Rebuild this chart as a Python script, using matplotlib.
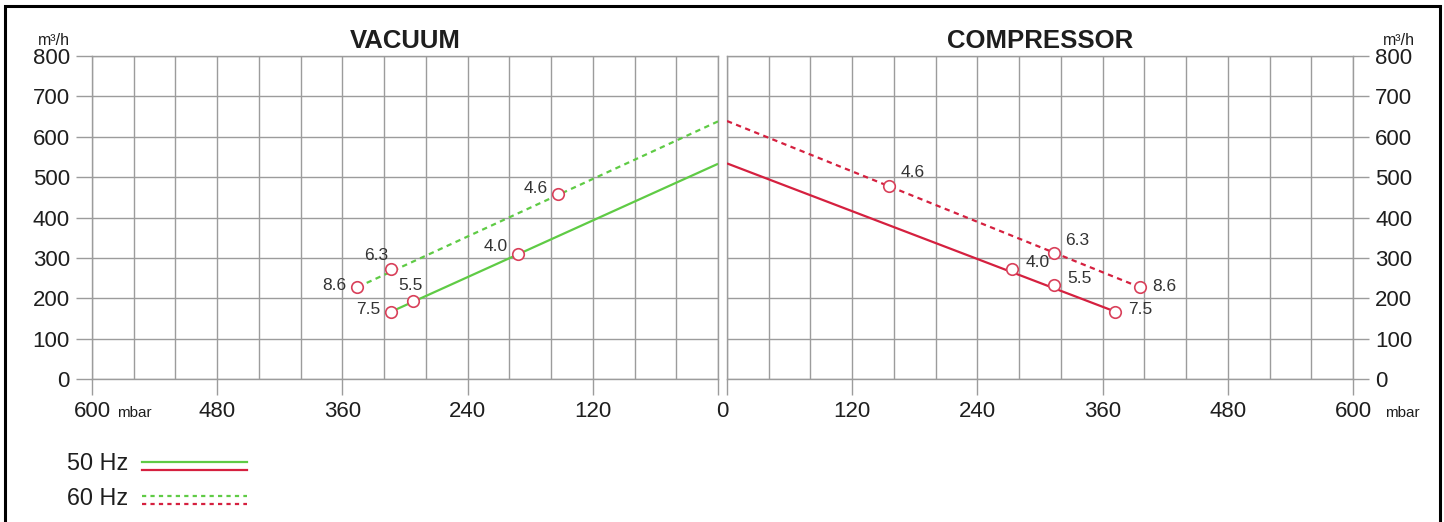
import matplotlib
matplotlib.use('Agg')
import matplotlib.pyplot as plt
from matplotlib.lines import Line2D
from matplotlib.patches import Rectangle
from matplotlib.ticker import FixedLocator, MultipleLocator
from matplotlib.legend_handler import HandlerBase

plt.rcParams['font.family'] = ['Liberation Sans', 'DejaVu Sans']

# ---------------- data ----------------
x_ticks = [0, 120, 240, 360, 480, 600]
y_ticks = [0, 100, 200, 300, 400, 500, 600, 700, 800]

vac_kw = ['4.6', '4.0', '6.3', '8.6', '5.5', '7.5']
vac_mbar = [153, 192, 313, 346, 292, 313]
vac_flow = [457, 310, 272, 227, 193, 167]

comp_kw = ['4.6', '6.3', '4.0', '5.5', '8.6', '7.5']
comp_mbar = [155, 313, 273, 313, 396, 372]
comp_flow = [478, 313, 272, 232, 227, 167]

vac_50_mbar = [0, 313]
vac_50_flow = [533, 167]
vac_60_mbar = [0, 346]
vac_60_flow = [638, 227]
comp_50_mbar = [0, 372]
comp_50_flow = [534, 167]
comp_60_mbar = [0, 396]
comp_60_flow = [639, 227]

legend_labels = ['50 Hz', '60 Hz']

# label offsets (points) - layout only
vac_off = [(-16.5, 3.6), (-15.8, 4.3), (-11.2, 8.8), (-16.5, 0.7), (-2.2, 10.3), (-16.5, 0.7)]
comp_off = [(17.2, 8.6), (17.2, 7.9), (18.5, 4.3), (18.5, 4.3), (17.2, 0.0), (17.8, 0.7)]

# ---------------- style ----------------
W, H, DPI = 1444, 522, 100
GREEN = '#5fcb45'
RED = '#d5203f'
MRED = '#d9405a'
GRID = '#9c9c9c'
TXT = '#1e1e1e'
LW = 1.6
DASH = (2.4, 2.0)
TICKLEN = 11.5
TICKFS = 16

fig = plt.figure(figsize=(W / DPI, H / DPI), dpi=DPI)
fig.patch.set_facecolor('white')

ax_w = 626 / W
ax_h = 323 / H
ax_b = (H - 379) / H
axL = fig.add_axes([92 / W, ax_b, ax_w, ax_h])
axR = fig.add_axes([727 / W, ax_b, ax_w, ax_h])


def style_axes(ax, side):
    ax.set_ylim(0, 800)
    if side == 'left':
        ax.set_xlim(600, 0)
    else:
        ax.set_xlim(0, 600)
    ax.xaxis.set_major_locator(FixedLocator(x_ticks))
    ax.xaxis.set_minor_locator(MultipleLocator(40))
    ax.yaxis.set_major_locator(FixedLocator(y_ticks))
    ax.grid(True, which='both', axis='x', color=GRID, linewidth=1.0)
    ax.grid(True, which='major', axis='y', color=GRID, linewidth=1.0)
    ax.set_axisbelow(True)
    for s in ax.spines.values():
        s.set_color(GRID)
        s.set_linewidth(1.0)
    ax.tick_params(axis='both', which='major', length=TICKLEN, width=1.0, color=GRID,
                   labelsize=TICKFS, labelcolor=TXT, pad=4.5)
    ax.tick_params(axis='x', which='minor', length=0)
    lbls = [str(v) if v != 0 else '' for v in x_ticks]
    ax.set_xticklabels(lbls)
    ax.set_yticklabels([str(v) for v in y_ticks])
    if side == 'right':
        ax.yaxis.tick_right()
        ax.tick_params(axis='y', which='major', length=TICKLEN, width=1.0, color=GRID,
                       labelsize=TICKFS, labelcolor=TXT, pad=4.5)
    ax.set_facecolor('white')


style_axes(axL, 'left')
style_axes(axR, 'right')

axL.set_title('VACUUM', fontsize=18.5, fontweight='bold', color=TXT, pad=6)
axR.set_title('COMPRESSOR', fontsize=18.5, fontweight='bold', color=TXT, pad=6)

# unit labels
axL.annotate('m³/h', xy=(0, 1), xycoords='axes fraction', xytext=(-16, 11.5),
             textcoords='offset points', ha='right', va='center', fontsize=11.5, color=TXT)
axR.annotate('m³/h', xy=(1, 1), xycoords='axes fraction', xytext=(44.5, 11.5),
             textcoords='offset points', ha='right', va='center', fontsize=11.5, color=TXT)
axL.annotate('mbar', xy=(0, 0), xycoords='axes fraction', xytext=(18.2, -27.5),
             textcoords='offset points', ha='left', va='baseline', fontsize=11, color=TXT)
axR.annotate('mbar', xy=(1, 0), xycoords='axes fraction', xytext=(23, -27.5),
             textcoords='offset points', ha='left', va='baseline', fontsize=11, color=TXT)
axL.annotate('0', xy=(0, 0), xycoords=('data', 'axes fraction'), xytext=(3.3, -TICKLEN - 4.5),
             textcoords='offset points', ha='center', va='top', fontsize=TICKFS, color=TXT)

# lines
axL.plot(vac_50_mbar, vac_50_flow, color=GREEN, lw=LW, solid_capstyle='butt', zorder=3)
axL.plot(vac_60_mbar, vac_60_flow, color=GREEN, lw=LW, dashes=DASH, zorder=3)
axR.plot(comp_50_mbar, comp_50_flow, color=RED, lw=LW, solid_capstyle='butt', zorder=3)
axR.plot(comp_60_mbar, comp_60_flow, color=RED, lw=LW, dashes=DASH, zorder=3)

# markers
for ax, xs, ys, kws, offs in [(axL, vac_mbar, vac_flow, vac_kw, vac_off),
                              (axR, comp_mbar, comp_flow, comp_kw, comp_off)]:
    ax.plot(xs, ys, linestyle='none', marker='o', markersize=8.3, markerfacecolor='white',
            markeredgecolor=MRED, markeredgewidth=1.2, zorder=4)
    for x, y, k, o in zip(xs, ys, kws, offs):
        ax.annotate(k, xy=(x, y), xytext=(o[0], o[1] + 0.8), textcoords='offset points',
                    ha='center', va='center', fontsize=12.5, color='#333333', zorder=5)


# legend with stacked samples
class StackedHandler(HandlerBase):
    def create_artists(self, legend, orig_handle, xdescent, ydescent, width, height,
                       fontsize, trans):
        arts = []
        gap = 5.6
        base = height / 2 - 2.8
        for i, h in enumerate(orig_handle):
            y = base + gap / 2 - i * gap
            ln = Line2D([-xdescent, width - xdescent], [y, y], color=h.get_color(),
                        linewidth=h.get_linewidth(), transform=trans)
            if h.get_linestyle() != '-':
                ln.set_dashes((1.9, 1.9))
            arts.append(ln)
        return arts


h50 = (Line2D([], [], color=GREEN, lw=LW), Line2D([], [], color=RED, lw=LW))
h60 = (Line2D([], [], color=GREEN, lw=LW, linestyle='--'),
       Line2D([], [], color=RED, lw=LW, linestyle='--'))
leg = fig.legend([h50, h60], legend_labels, handler_map={tuple: StackedHandler()},
                 loc='upper left', bbox_to_anchor=(67 / W, 1 - 452 / H), frameon=False,
                 markerfirst=False, handlelength=4.5, handletextpad=0.6, labelspacing=0.5,
                 borderpad=0, borderaxespad=0, fontsize=16.8, handleheight=0.7)
for t in leg.get_texts():
    t.set_color(TXT)

# outer frame (bottom edge outside the picture)
fig.add_artist(Rectangle((5 / W, -0.05), 1435 / W, 1.05 - 5.5 / H, transform=fig.transFigure,
                         fill=False, edgecolor='black', linewidth=2.2))

fig.savefig('out.png', dpi=DPI, facecolor='white')
